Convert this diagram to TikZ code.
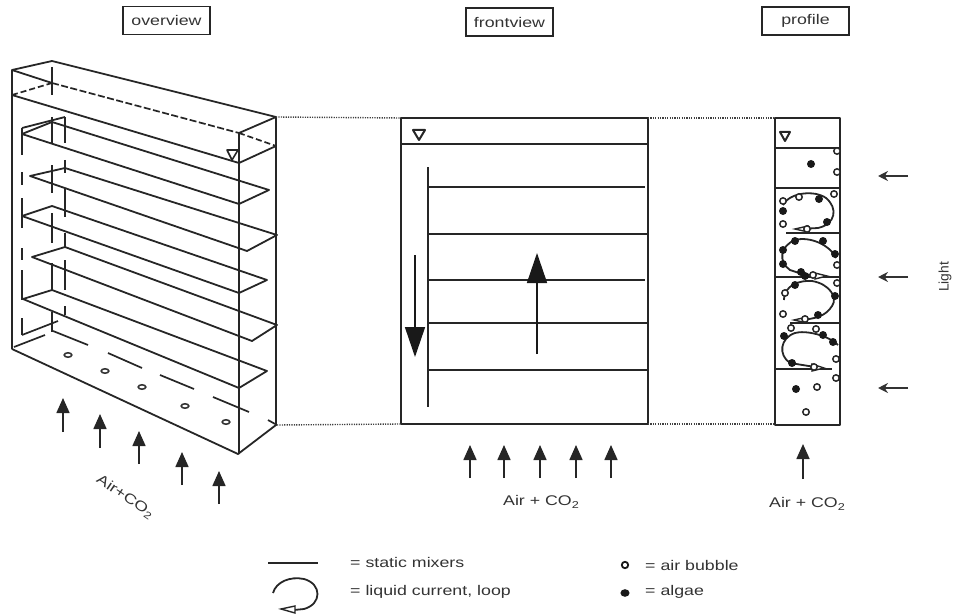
\documentclass[tikz,border=0pt]{standalone}
\usepackage{fontspec}
\setmainfont[FakeStretch=1.27]{Liberation Sans}
\newfontfamily\plainf{Liberation Sans}
\usetikzlibrary{arrows.meta}
\tikzset{
  ln/.style={line width=1.8pt,black!85,line join=round},
  thin ln/.style={line width=1.5pt,black!85},
  dsh/.style={ln,line width=1.7pt},
  up/.style={line width=1.6pt,black!85,-{Triangle[length=15pt,width=13pt]}},
  big/.style={line width=1.6pt,black!90,-{Triangle[length=30pt,width=20pt]}},
  lightarr/.style={line width=1.3pt,black!80,-{Stealth[length=10pt,width=10pt]}},
  dot/.style={line width=1.4pt,black!75,dash pattern=on 1.2pt off 1.2pt},
  title/.style={draw=black!85,line width=1.6pt,inner sep=0pt,minimum width=87pt,minimum height=28pt,font=\fontsize{14}{16}\selectfont,text=black!80},
  lab/.style={font=\fontsize{14}{16}\selectfont,text=black!80},
  bub/.style={draw=black!85,line width=1.5pt,fill=white},
  alg/.style={fill=black!90},
  loopc/.style={line width=1.8pt,black!85},
  hd/.style={draw=black!85,line width=1.4pt,fill=white},
  tri/.style={line width=2pt,black!85,line join=round}
}
\newcommand{\bbl}[2]{\draw[bub] (#1,#2) circle (3.2pt);}
\newcommand{\alga}[2]{\fill[alg] (#1,#2) circle (4pt);}
\newcommand{\subtwo}{\raisebox{-3pt}{\fontsize{10}{10}\selectfont 2}}
\begin{document}
\begin{tikzpicture}[x=1pt,y=-1pt]
\useasboundingbox (0,0) rectangle (953,615);
% titles
\node[title] (t1) at (166.5,20.5) {overview};
\node[title] (t2) at (509.5,22) {frontview};
\node[title] (t3) at (805.5,21) {profile};
% overview box
\draw[ln] (12,349) -- (12,70) -- (52,61) -- (276,117) -- (276,425) -- (238,454) -- (12,349);
\draw[ln] (12,70) -- (52,83);
\draw[dsh,dash pattern=on 7pt off 2.5pt] (52,83) -- (239,133);
\draw[ln] (276,117) -- (239,133) -- (239,454);
\draw[ln] (12,95) -- (239,163) -- (276,146);
\draw[dsh,dash pattern=on 6pt off 3pt] (12,95) -- (52,83);
\draw[dsh,dash pattern=on 6pt off 3pt] (239,133) -- (276,146);
\draw[tri,line width=1.6pt] (227,150) -- (238,150) -- (232,160) -- cycle;
% mixers
\draw[ln] (22,134) -- (52,122) -- (269,190) -- (239,204) -- cycle;
\draw[ln] (22,128) -- (65,117);
\draw[ln] (30,176) -- (65,168) -- (277,235) -- (247,251) -- cycle;
\draw[ln] (22,216) -- (52,206) -- (267,280) -- (239,293) -- cycle;
\draw[ln] (32,257) -- (65,247) -- (277,325) -- (252,341) -- cycle;
\draw[ln] (23,299) -- (52,290) -- (267,371) -- (239,388) -- cycle;
% hidden verticals
\foreach \a/\b in {128/155,172/185,198/228,248/260,270/300,318/335}
  \draw[dsh] (22,\a) -- (22,\b);
\foreach \a/\b in {67/95,117/143,165/193,213/243,263/290,312/332}
  \draw[dsh] (52,\a) -- (52,\b);
\foreach \a/\b in {117/143,160/173,188/217,233/247,260/290,306/315}
  \draw[dsh] (65,\a) -- (65,\b);
% bottom hidden edges
\draw[dsh] (22,335) -- (58,321);
\draw[dsh] (14,347) -- (45,335);
\draw[dsh] (53,331) -- (88,345);
\draw[dsh] (108,353) -- (142,368);
\draw[dsh] (160,375) -- (194,389);
\draw[dsh] (213,397) -- (249,412);
\draw[dsh] (268,420) -- (277,425);
\foreach \x/\y in {68/355,105/371,142/387,185/406,226/422}
  \draw[line width=1.6pt,black!80] (\x,\y) ellipse (3.8pt and 2.2pt);
% overview arrows
\foreach \x/\a/\b in {63/432/398,100/448/414,139/464/431,182/485/452,219/504/471}
  \draw[up] (\x,\a) -- (\x,\b);
\node[lab,rotate=-34] (l1) at (125,497) {Air+CO\subtwo};
% frontview
\draw[ln] (401,118) rectangle (648,424);
\draw[ln] (401,144) -- (648,144);
\draw[tri] (413,130) -- (425,130) -- (419,140) -- cycle;
\draw[ln] (428,167) -- (428,407);
\foreach \y/\e in {187/645,234/648,280/645,323/648,370/648}
  \draw[thin ln] (428,\y) -- (\e,\y);
\draw[big] (537,354) -- (537,253);
\draw[big] (415,255) -- (415,357);
\foreach \x in {470,504,540,576,611}
  \draw[up] (\x,478) -- (\x,445);
\node[lab] (l2) at (541,502) {Air + CO\subtwo};
% dotted links
\draw[dot] (276,117) -- (401,118);
\draw[dot] (277,425) -- (401,424);
\draw[dot] (648,118) -- (775,118);
\draw[dot] (648,424) -- (775,424);
% profile
\draw[ln] (775,118) rectangle (840,425);
\draw[ln] (775,148) -- (840,148);
\draw[ln] (775,188) -- (840,188);
\draw[ln] (786,233) -- (840,233);
\draw[ln] (775,277) -- (840,277);
\draw[ln] (790,323) -- (840,323);
\draw[ln] (775,369) -- (832,369);
\draw[tri] (780,132) -- (790,132) -- (785,141) -- cycle;
% loops
\draw[loopc] (783,205) .. controls (790,192) and (815,190) .. (826,198) .. controls (838,208) and (836,224) .. (818,228) -- (800,229);
\draw[hd] (795,229) -- (808,226) -- (808,232) -- cycle;
\draw[loopc] (836,258) .. controls (830,245) and (810,236) .. (795,240) .. controls (780,246) and (778,262) .. (790,270) -- (802,274) -- (822,276);
\draw[hd] (827,276) -- (815,273) -- (815,279) -- cycle;
\draw[loopc] (784,300) .. controls (784,285) and (800,280) .. (812,281) .. controls (830,284) and (838,298) .. (832,306) .. controls (826,316) and (815,319) .. (800,320);
\draw[hd] (794,320) -- (807,317) -- (807,323) -- cycle;
\draw[loopc] (838,345) .. controls (828,335) and (805,330) .. (795,333) .. controls (780,338) and (778,355) .. (790,363) -- (815,367);
\draw[hd] (824,368) -- (812,364) -- (812,371) -- cycle;
% particles
\alga{811}{164}\bbl{837}{151}\bbl{837}{172}
\bbl{783}{201}\bbl{799}{197}\bbl{834}{194}\alga{819}{199}\alga{783}{211}\alga{827}{222}\bbl{783}{224}\bbl{807}{229}
\alga{795}{241}\alga{823}{241}\alga{783}{250}\alga{835}{254}\alga{783}{264}\alga{801}{272}\bbl{837}{265}\alga{805}{276}\bbl{813}{275}
\bbl{837}{283}\alga{795}{285}\bbl{785}{293}\alga{835}{296}\bbl{783}{314}\alga{818}{315}\bbl{805}{319}
\bbl{791}{328}\bbl{816}{329}\alga{784}{336}\alga{823}{335}\alga{833}{342}\alga{792}{363}\bbl{836}{359}\bbl{814}{367}
\bbl{836}{378}\bbl{817}{387}\bbl{806}{412}\alga{796}{389}
% profile arrows
\draw[up] (803,479) -- (803,444);
\node[lab] (l3) at (807,504) {Air + CO\subtwo};
\foreach \y in {176,277,388}
  \draw[lightarr] (908,\y) -- (878,\y);
\node[rotate=90,text=black!80,font=\plainf\fontsize{13.8}{15}\selectfont] (l4) at (945,277) {Light};
% legend
\draw[ln] (268,563) -- (318,563);
\draw[loopc] (273,593) .. controls (276,582) and (290,576) .. (304,579) .. controls (322,584) and (322,604) .. (304,609) -- (294,610);
\draw[hd] (281,609) -- (295,606) -- (295,613) -- cycle;
\node[lab,anchor=west,inner sep=0pt] (k1) at (350,562) {= static mixers};
\node[lab,anchor=west,inner sep=0pt] (k2) at (350,592) {= liquid current, loop};
\draw[line width=1.8pt,black!90,fill=white] (625,565) circle (3.2pt);
\fill[black!90] (625,593) ellipse (4.6pt and 3.8pt);
\node[lab,anchor=west,inner sep=0pt] (k3) at (645,565) {= air bubble};
\node[lab,anchor=west,inner sep=0pt] (k4) at (645,592) {= algae};
\end{tikzpicture}
\end{document}
